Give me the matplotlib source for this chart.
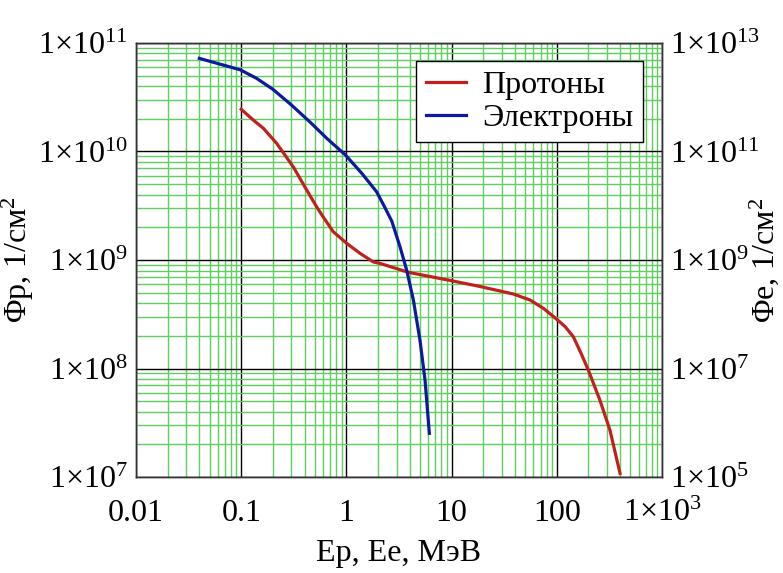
import numpy as np
import matplotlib.pyplot as plt
from matplotlib.ticker import LogLocator, FixedLocator, FuncFormatter, NullFormatter

# fonts: Times-like serif
plt.rcParams['font.family'] = ['Liberation Serif', 'DejaVu Serif']
plt.rcParams['mathtext.fontset'] = 'custom'
plt.rcParams['mathtext.rm'] = 'Liberation Serif'
plt.rcParams['mathtext.it'] = 'Liberation Serif'

# protons (left axis)
e_p = [0.1, 0.13, 0.162, 0.217, 0.313, 0.42, 0.52, 0.60, 0.75, 1.0, 1.35, 1.8,
       2.09, 3.88, 10.0, 18.6, 38.6, 55.6, 74.4, 100.0, 120.0, 143.6, 170.0,
       199.0, 257.0, 320.0, 399.0]
phi_p = [2.45e10, 1.95e10, 1.64e10, 1.19e10, 7.2e9, 4.4e9, 3.1e9, 2.5e9, 1.82e9,
         1.43e9, 1.15e9, 9.6e8, 9.3e8, 7.7e8, 6.44e8, 5.7e8, 4.86e8, 4.28e8,
         3.59e8, 2.84e8, 2.43e8, 1.96e8, 1.38e8, 9.7e7, 5.1e7, 2.7e7, 1.08e7]

# electrons (right axis)
e_e = [0.04, 0.098, 0.14, 0.2, 0.3, 0.45, 0.65, 0.98, 1.4, 1.94, 2.3, 2.7,
       3.23, 3.74, 4.33, 5.0, 5.59, 6.14]
phi_e = [5.2e12, 3.2e12, 2.23e12, 1.4e12, 7.2e11, 3.5e11, 1.75e11, 8.6e10,
         3.96e10, 1.8e10, 9.6e9, 5.2e9, 1.76e9, 6.5e8, 1.83e8, 3.35e7, 6.1e6,
         6.4e5]

x_ticks = [0.01, 0.1, 1, 10, 100, 1000]
x_labels = ['0.01', '0.1', '1', '10', '100', r'1$\times$10$^{3}$']
yl_ticks = [1e7, 1e8, 1e9, 1e10, 1e11]
yr_ticks = [1e5, 1e7, 1e9, 1e11, 1e13]

red = '#c0211c'
blue = '#0c1a9e'
green = '#5dcf5d'
fs = 23


def sci(v, pos=None):
  return r'1$\times$10$^{%d}$' % int(round(np.log10(v)))


fig = plt.figure(figsize=(7.83, 5.73), dpi=100)
ax = fig.add_axes([0.1737, 0.1675, 0.6718, 0.7575])
ax.set_xscale('log')
ax.set_yscale('log')
ax.set_xlim(0.01, 1000)
ax.set_ylim(1e7, 1e11)

ax.xaxis.set_major_locator(FixedLocator(x_ticks))
ax.xaxis.set_major_formatter(FuncFormatter(lambda v, p: x_labels[x_ticks.index(v)] if v in x_ticks else ''))
ax.xaxis.set_minor_locator(LogLocator(base=10, subs=np.arange(2, 10)))
ax.xaxis.set_minor_formatter(NullFormatter())
ax.yaxis.set_major_locator(FixedLocator(yl_ticks))
ax.yaxis.set_major_formatter(FuncFormatter(sci))
ax.yaxis.set_minor_locator(LogLocator(base=10, subs=np.arange(2, 10)))
ax.yaxis.set_minor_formatter(NullFormatter())

ax.grid(which='minor', color=green, lw=1.0)
ax.grid(which='major', color='black', lw=1.0)
ax.set_axisbelow(True)
ax.tick_params(which='both', length=0, labelsize=fs)
ax.tick_params(axis='x', pad=16)
ax.tick_params(axis='y', pad=6)

l1, = ax.plot(e_p, phi_p, color=red, lw=2.3, label='Протоны')

ax2 = ax.twinx()
ax2.set_yscale('log')
ax2.set_ylim(1e5, 1e13)
ax2.yaxis.set_major_locator(FixedLocator(yr_ticks))
ax2.yaxis.set_major_formatter(FuncFormatter(sci))
ax2.yaxis.set_minor_locator(FixedLocator([]))
ax2.tick_params(which='both', length=0, labelsize=fs, pad=6)
l2, = ax2.plot(e_e, phi_e, color=blue, lw=2.3, label='Электроны')

for a in (ax, ax2):
  for s in a.spines.values():
    s.set_color('#333333')
    s.set_linewidth(1.0)

ax.set_xlabel('Ер, Ее, МэВ', fontsize=fs)
ax.xaxis.set_label_coords(0.5, -0.143)
ax.set_ylabel('Φр, 1/см$^{2}$', fontsize=fs)
ax.yaxis.set_label_coords(-0.19, 0.5)
ax2.set_ylabel('Φе, 1/см$^{2}$', fontsize=fs)
ax2.yaxis.set_label_coords(1.162, 0.5)

leg = ax2.legend(handles=[l1, l2], loc='upper right', bbox_to_anchor=(0.963, 0.958),
                 fontsize=fs, frameon=True, fancybox=False, framealpha=1,
                 edgecolor='black', handlelength=1.25, handletextpad=0.5,
                 borderpad=0.3, labelspacing=0.1, borderaxespad=0)
leg.get_frame().set_linewidth(1.0)

fig.savefig('out.png', dpi=100, facecolor='white')
